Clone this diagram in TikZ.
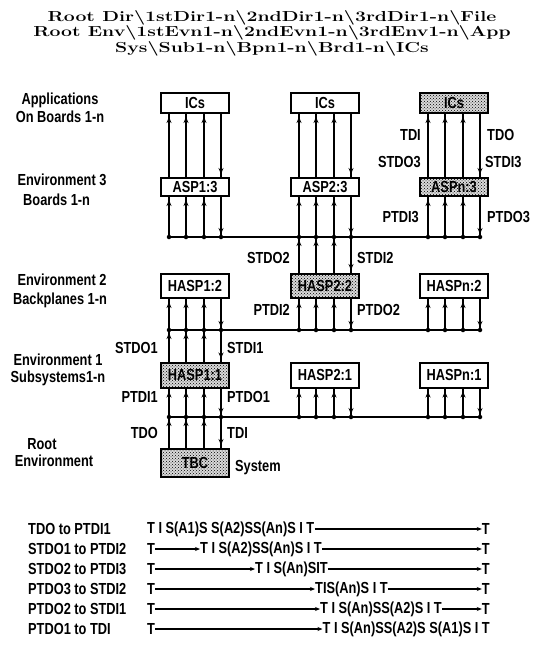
\documentclass[tikz,border=0pt]{standalone}
\usepackage{graphicx}
\usepackage{fontspec}
\newfontfamily\lblfont{Liberation Sans}[FakeStretch=0.8]
\usepackage{tikz}
\usetikzlibrary{arrows.meta,patterns,calc}
\newcommand{\bs}{\textbackslash}

\tikzset{
  lbl/.style={font=\lblfont\bfseries\fontsize{16}{18}\selectfont,inner sep=0pt},
  chip/.style={lbl,draw,line width=2pt,minimum width=68pt,fill=white},
  chipdots/.style={chip,fill=gray!30,postaction={pattern=crosshatch dots}},
  sig/.style={line width=1.6pt},
  flow/.style={sig,postaction={draw,-{Stealth[length=6pt,width=5pt]},shorten >=3pt}},
  seq/.style={line width=1.2pt,-{Stealth[length=5pt,width=4pt]}},
  jdot/.style={fill,circle,inner sep=0pt,minimum size=4.5pt}
}

\begin{document}
\begin{tikzpicture}[x=1pt,y=-1pt]
\useasboundingbox (0,0) rectangle (541,646);
\node[font=\bfseries\fontsize{14.5}{15.5}\selectfont,align=center] (title) at (272,33)
  {\scalebox{1.34}[1]{Root Dir\bs 1stDir1-n\bs 2ndDir1-n\bs 3rdDir1-n\bs File}\\
   \scalebox{1.34}[1]{Root Env\bs 1stEvn1-n\bs 2ndEvn1-n\bs 3rdEnv1-n\bs App}\\
   \scalebox{1.34}[1]{Sys\bs Sub1-n\bs Bpn1-n\bs Brd1-n\bs ICs}};
% level names
\node[lbl] (apps) at (60,100) {Applications};
\node[lbl] (appsb) at (60,117) {On Boards 1-n};
\node[lbl] (env3) at (62,180) {Environment 3};
\node[lbl,anchor=west] (env3b) at (23,200) {Boards 1-n};
\node[lbl] (env2) at (62,280) {Environment 2};
\node[lbl] (env2b) at (60,300) {Backplanes 1-n};
\node[lbl] (env1) at (58,360) {Environment 1};
\node[lbl] (env1b) at (58,378) {Subsystems1-n};
\node[lbl] (root) at (42,444) {Root};
\node[lbl] (rootb) at (54,461) {Environment};
% boxes
\node[chip,minimum height=20pt] (ics1) at (195,103) {ICs};
\node[chip,minimum height=20pt] (ics2) at (325,103) {ICs};
\node[chipdots,minimum height=20pt] (ics3) at (454,103) {ICs};
\node[chip,minimum height=18pt] (asp1) at (195,187) {ASP1:3};
\node[chip,minimum height=18pt] (asp2) at (325,187) {ASP2:3};
\node[chipdots,minimum height=18pt] (asp3) at (454,187) {ASPn:3};
\node[chip,minimum height=24pt] (bp1) at (195,286) {HASP1:2};
\node[chipdots,minimum height=24pt] (bp2) at (325,286) {HASP2:2};
\node[chip,minimum height=24pt] (bp3) at (454,286) {HASPn:2};
\node[chipdots,minimum height=25pt] (ss1) at (195,375) {HASP1:1};
\node[chip,minimum height=25pt] (ss2) at (325,375) {HASP2:1};
\node[chip,minimum height=25pt] (ss3) at (454,375) {HASPn:1};
\node[chipdots,minimum height=28pt] (tbc) at (195,463) {TBC};
% buses
\coordinate (bus3) at (169,237); \coordinate (bus3e) at (480,237);
\coordinate (bus2) at (169,330); \coordinate (bus2e) at (480,330);
\coordinate (bus1) at (169,417); \coordinate (bus1e) at (480,417);
\draw[sig] (bus3) -- (bus3e);
\draw[sig] (bus2) -- (bus2e);
\draw[sig] (bus1) -- (bus1e);
% scan lines, three up and one down
\foreach \c in {1,2,3} {
  \foreach \o in {-26,-9,9} {
    \draw[flow] ($(asp\c.north)+(\o,0)$) -- ($(ics\c.south)+(\o,0)$);
    \draw[flow] ($(asp\c.south |- bus3)+(\o,0)$) -- ($(asp\c.south)+(\o,0)$);
    \draw[flow] ($(bp\c.south |- bus2)+(\o,0)$) -- ($(bp\c.south)+(\o,0)$);
    \draw[flow] ($(ss\c.south |- bus1)+(\o,0)$) -- ($(ss\c.south)+(\o,0)$);
  }
  \draw[flow] ($(ics\c.south)+(26,0)$) -- ($(asp\c.north)+(26,0)$);
  \draw[flow] ($(asp\c.south)+(26,0)$) -- ($(asp\c.south |- bus3)+(26,0)$);
  \draw[flow] ($(bp\c.south)+(26,0)$) -- ($(bp\c.south |- bus2)+(26,0)$);
  \draw[flow] ($(ss\c.south)+(26,0)$) -- ($(ss\c.south |- bus1)+(26,0)$);
  \foreach \o in {-26,-9,9,26} {
    \node[jdot] at ($(asp\c.south |- bus3)+(\o,0)$) {};
    \node[jdot] at ($(bp\c.south |- bus2)+(\o,0)$) {};
    \node[jdot] at ($(ss\c.south |- bus1)+(\o,0)$) {};
  }
}
% links down the tree
\foreach \o in {-26,-9,9} {
  \draw[flow] ($(bp2.north)+(\o,0)$) -- ($(bp2.north |- bus3)+(\o,0)$);
  \draw[flow] ($(ss1.north)+(\o,0)$) -- ($(ss1.north |- bus2)+(\o,0)$);
  \draw[flow] ($(tbc.north)+(\o,0)$) -- ($(tbc.north |- bus1)+(\o,0)$);
}
\draw[flow] ($(bp2.north |- bus3)+(26,0)$) -- ($(bp2.north)+(26,0)$);
\draw[flow] ($(ss1.north |- bus2)+(26,0)$) -- ($(ss1.north)+(26,0)$);
\draw[flow] ($(tbc.north |- bus1)+(26,0)$) -- ($(tbc.north)+(26,0)$);
% port names
\node[lbl,anchor=east] (tdi3) at (421,135) {TDI};
\node[lbl,anchor=west] (tdo3) at (487,135) {TDO};
\node[lbl,anchor=east] (stdo3) at (421,162) {STDO3};
\node[lbl,anchor=west] (stdi3) at (485,162) {STDI3};
\node[lbl,anchor=east] (ptdi3) at (419,217) {PTDI3};
\node[lbl,anchor=west] (ptdo3) at (487,217) {PTDO3};
\node[lbl,anchor=east] (stdo2) at (290,258) {STDO2};
\node[lbl,anchor=west] (stdi2) at (357,258) {STDI2};
\node[lbl,anchor=east] (ptdi2) at (290,310) {PTDI2};
\node[lbl,anchor=west] (ptdo2) at (357,310) {PTDO2};
\node[lbl,anchor=east] (stdo1) at (158,348) {STDO1};
\node[lbl,anchor=west] (stdi1) at (227,348) {STDI1};
\node[lbl,anchor=east] (ptdi1) at (158,397) {PTDI1};
\node[lbl,anchor=west] (ptdo1) at (227,397) {PTDO1};
\node[lbl,anchor=east] (tdo0) at (158,433) {TDO};
\node[lbl,anchor=west] (tdi0) at (227,433) {TDI};
\node[lbl,anchor=west] (sys) at (235,468) {System};
% scan paths
\node[lbl,anchor=west] (p1) at (28,529) {TDO to PTDI1};
\node[lbl,anchor=west] (p1a) at (147,529) {T I S(A1)S S(A2)SS(An)S I T};
\node[lbl,anchor=east] (p1z) at (490,529) {T};
\draw[seq] (p1a) -- (p1z);
\node[lbl,anchor=west] (p2) at (28,549) {STDO1 to PTDI2};
\node[lbl,anchor=west] (p2a) at (147,549) {T};
\node[lbl,anchor=west] (p2b) at (200,549) {T I S(A2)SS(An)S I T};
\node[lbl,anchor=east] (p2z) at (490,549) {T};
\draw[seq] (p2a) -- (p2b); \draw[seq] (p2b) -- (p2z);
\node[lbl,anchor=west] (p3) at (28,569) {STDO2 to PTDI3};
\node[lbl,anchor=west] (p3a) at (147,569) {T};
\node[lbl,anchor=west] (p3b) at (255,569) {T I S(An)SIT};
\node[lbl,anchor=east] (p3z) at (490,569) {T};
\draw[seq] (p3a) -- (p3b); \draw[seq] (p3b) -- (p3z);
\node[lbl,anchor=west] (p4) at (28,589) {PTDO3 to STDI2};
\node[lbl,anchor=west] (p4a) at (147,589) {T};
\node[lbl,anchor=west] (p4b) at (315,589) {TIS(An)S I T};
\node[lbl,anchor=east] (p4z) at (490,589) {T};
\draw[seq] (p4a) -- (p4b); \draw[seq] (p4b) -- (p4z);
\node[lbl,anchor=west] (p5) at (28,609) {PTDO2 to STDI1};
\node[lbl,anchor=west] (p5a) at (147,609) {T};
\node[lbl,anchor=west] (p5b) at (320,609) {T I S(An)SS(A2)S I T};
\node[lbl,anchor=east] (p5z) at (490,609) {T};
\draw[seq] (p5a) -- (p5b); \draw[seq] (p5b) -- (p5z);
\node[lbl,anchor=west] (p6) at (28,629) {PTDO1 to TDI};
\node[lbl,anchor=west] (p6a) at (147,629) {T};
\node[lbl,anchor=east] (p6b) at (490,629) {T I S(An)SS(A2)S S(A1)S I T};
\draw[seq] (p6a) -- (p6b);
\end{tikzpicture}
\end{document}
